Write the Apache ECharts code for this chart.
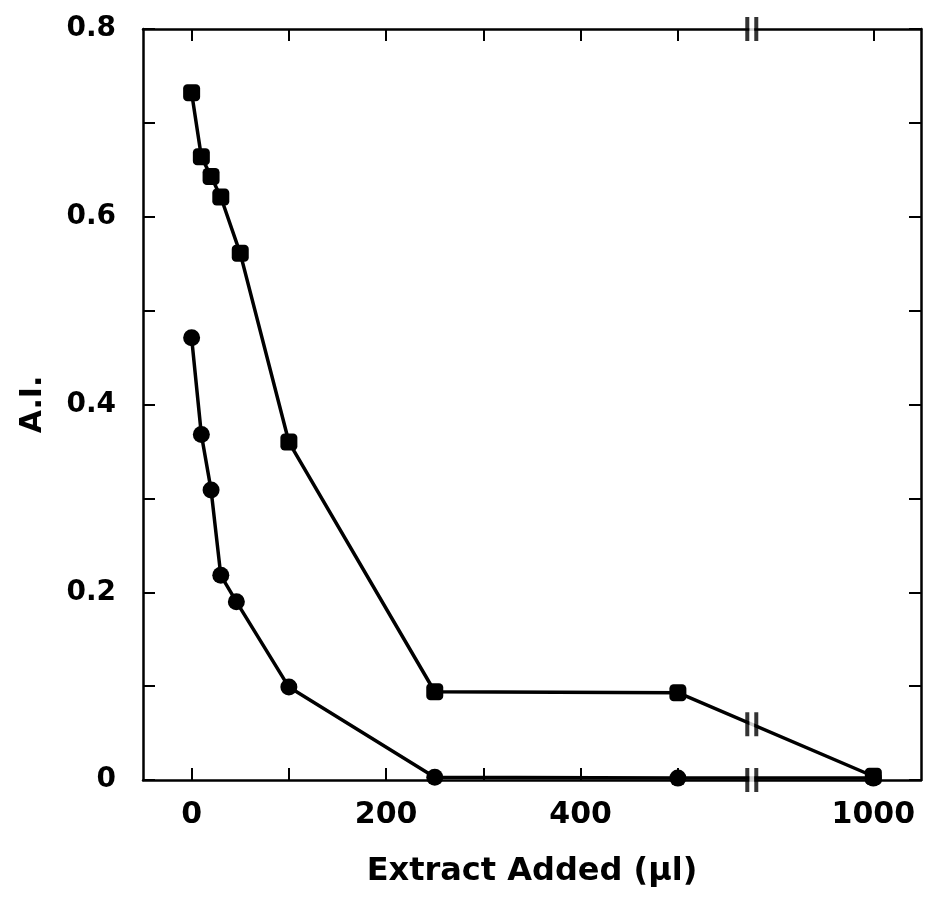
<!DOCTYPE html>
<html>
<head>
<meta charset="utf-8">
<script src="https://cdn.jsdelivr.net/npm/echarts@6/dist/echarts.min.js"></script>
<style>
html,body{margin:0;padding:0;background:#fff;}
#chart{width:926px;height:901px;}
</style>
</head>
<body>
<div id="chart"></div>
<script>
// ---- data (x in µl, y = A.I.) ----
const squareX = [0, 10, 20, 30, 50, 100, 250, 500, 1000];
const squareY = [0.732, 0.664, 0.643, 0.621, 0.561, 0.360, 0.094, 0.093, 0.004];
const circleX = [0, 10, 20, 30, 46, 100, 250, 500, 1000];
const circleY = [0.471, 0.368, 0.309, 0.218, 0.190, 0.099, 0.003, 0.002, 0.002];
const xTickValues = [0, 100, 200, 300, 400, 500, 1000];
const xTickLabels = [0, 200, 400, 1000];
const yTickLabels = [0, 0.2, 0.4, 0.6, 0.8];
const breakRange = [576, 875];   // broken x range (µl)

// ---- broken-axis mapping ----
const cut = breakRange[1] - breakRange[0];
function toAxis(v) { return v <= breakRange[0] ? v : (v >= breakRange[1] ? v - cut : breakRange[0]); }
function fromAxis(d) { return d <= breakRange[0] ? d : d + cut; }

const sqData = squareX.map((x, i) => [toAxis(x), squareY[i]]);
const ciData = circleX.map((x, i) => [toAxis(x), circleY[i]]);

// y of the square line where it crosses the break
function lineAt(xs, ys, d) {
  for (let i = 0; i < xs.length - 1; i++) {
    const a = toAxis(xs[i]), b = toAxis(xs[i + 1]);
    if (d >= a && d <= b) return ys[i] + (ys[i + 1] - ys[i]) * (d - a) / (b - a);
  }
  return 0;
}
const bx = breakRange[0];
const breakMarks = [[bx, 0.8], [bx, lineAt(squareX, squareY, bx)], [bx, 0]];

const FONT = 'DejaVu Sans';
const axisLine = { show: true, onZero: false, lineStyle: { color: '#000', width: 2.5 } };
const tickStyle = { color: '#000', width: 2 };

const chart = echarts.init(document.getElementById('chart'), null, { renderer: 'canvas' });
chart.setOption({
  backgroundColor: '#fff',
  animation: false,
  grid: { left: 143, right: 5, top: 29, bottom: 121, containLabel: false },
  xAxis: [
    {
      type: 'value', position: 'bottom', min: -50, max: 750,
      axisLine: axisLine,
      axisTick: { show: true, inside: true, length: 12, lineStyle: tickStyle,
                  customValues: xTickValues.map(toAxis) },
      axisLabel: { show: true, margin: 20, color: '#000', fontFamily: FONT, fontWeight: 'bold', fontSize: 30,
                   customValues: xTickLabels.map(toAxis),
                   formatter: v => String(Math.round(fromAxis(v))) },
      splitLine: { show: false },
      name: 'Extract Added (\u03bcl)', nameLocation: 'middle', nameGap: 76,
      nameTextStyle: { color: '#000', fontFamily: FONT, fontWeight: 'bold', fontSize: 32 }
    },
    {
      type: 'value', position: 'top', min: -50, max: 750,
      axisLine: axisLine,
      axisTick: { show: true, inside: true, length: 12, lineStyle: tickStyle,
                  customValues: xTickValues.map(toAxis) },
      axisLabel: { show: false },
      splitLine: { show: false }
    }
  ],
  yAxis: [
    {
      type: 'value', position: 'left', min: 0, max: 0.8, interval: 0.1,
      axisLine: axisLine,
      axisTick: { show: true, inside: true, length: 12, lineStyle: tickStyle },
      axisLabel: { show: true, margin: 27, color: '#000', fontFamily: FONT, fontWeight: 'bold', fontSize: 28,
                   customValues: yTickLabels,
                   formatter: v => (v === 0 ? '0' : v.toFixed(1)) },
      splitLine: { show: false },
      name: 'A.I.', nameLocation: 'middle', nameGap: 95,
      nameTextStyle: { color: '#000', fontFamily: FONT, fontWeight: 'bold', fontSize: 30 }
    },
    {
      type: 'value', position: 'right', min: 0, max: 0.8, interval: 0.1,
      axisLine: axisLine,
      axisTick: { show: true, inside: true, length: 12, lineStyle: tickStyle },
      axisLabel: { show: false },
      splitLine: { show: false }
    }
  ],
  series: [
    {
      type: 'line', data: sqData, xAxisIndex: 0, yAxisIndex: 0,
      symbol: 'roundRect', symbolSize: 17, showSymbol: true,
      lineStyle: { color: '#000', width: 3.5 },
      itemStyle: { color: '#000' }, z: 3, clip: false
    },
    {
      type: 'line', data: ciData, xAxisIndex: 0, yAxisIndex: 0,
      symbol: 'circle', symbolSize: 17, showSymbol: true,
      lineStyle: { color: '#000', width: 3.5 },
      itemStyle: { color: '#000' }, z: 3, clip: false
    },
    {
      type: 'scatter', data: breakMarks, xAxisIndex: 0, yAxisIndex: 0,
      symbol: 'rect', symbolSize: [5, 22],
      itemStyle: { color: '#fff' }, z: 6, clip: false, silent: true
    },
    {
      type: 'scatter', data: breakMarks, xAxisIndex: 0, yAxisIndex: 0,
      symbol: 'path://M0,0h4v24h-4zM9,0h4v24h-4z', symbolSize: [13, 24], symbolKeepAspect: false,
      itemStyle: { color: '#000' }, z: 7, clip: false, silent: true
    }
  ]
});
</script>
</body>
</html>
